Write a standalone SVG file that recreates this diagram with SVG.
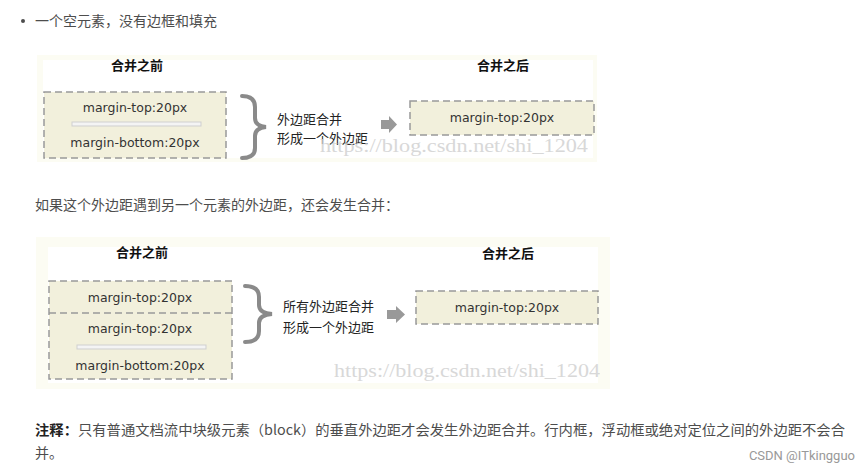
<svg xmlns="http://www.w3.org/2000/svg" width="864" height="472" viewBox="0 0 864 472">
<style>
.body{font-family:"Noto Sans CJK SC","Noto Sans",sans-serif;font-size:14px;fill:#4d4d4d}
.title{font-family:"Noto Sans CJK SC",sans-serif;font-size:13px;font-weight:bold;fill:#111;text-anchor:middle}
.lbl{font-family:"Noto Sans CJK SC",sans-serif;font-size:13px;fill:#222}
.m{font-family:"DejaVu Sans",Verdana,sans-serif;font-size:12.5px;fill:#333;text-anchor:middle}
.box{fill:#f2f0dc;stroke:#999;stroke-width:1.5;stroke-dasharray:7,4}
.bar{fill:#f4f4f4;stroke:#cfcfcf;stroke-width:1}
.brace{fill:none;stroke:#8a8a8a;stroke-width:4;stroke-linecap:round}
.arrow{fill:#999}
.wm{font-family:"Liberation Serif",serif;font-size:18px;fill:#cfcfcf;opacity:0.8}
.outer{fill:#fcfcf3}
.inner{fill:#ffffff}
</style>

<circle cx="23" cy="21" r="2" fill="#4d4d4d"/>
<text class="body" x="35" y="26">一个空元素，没有边框和填充</text>

<g id="figure1">
  <rect class="outer" x="37" y="55" width="560" height="107"/>
  <rect class="inner" x="43" y="60" width="550" height="98"/>
  <text class="title" x="137" y="70">合并之前</text>
  <text class="title" x="503" y="70">合并之后</text>
  <g id="before1">
    <rect class="box" x="44" y="92" width="182" height="66"/>
    <text class="m" x="135" y="112">margin-top:20px</text>
    <rect class="bar" x="72" y="122" width="129" height="4"/>
    <text class="m" x="135" y="147">margin-bottom:20px</text>
  </g>
  <g id="brace1">
    <path class="brace" d="M242,96 Q255,96 255,107 L255,118 Q255,126 266,127 Q255,128 255,136 L255,148 Q255,158 242,158"/>
    <text class="lbl" x="277" y="124">外边距合并</text>
    <text class="lbl" x="277" y="143">形成一个外边距</text>
  </g>
  <g id="arrow1">
    <path class="arrow" d="M381,120 L389,120 L389,116 L397,124.5 L389,133 L389,129 L381,129 Z"/>
  </g>
  <g id="after1">
    <rect class="box" x="410" y="101" width="184" height="34"/>
    <text class="m" x="502" y="122">margin-top:20px</text>
  </g>
  <text class="wm" x="320" y="152" textLength="268" lengthAdjust="spacingAndGlyphs">https://blog.csdn.net/shi_1204</text>
</g>

<text class="body" x="35" y="210">如果这个外边距遇到另一个元素的外边距，还会发生合并：</text>

<g id="figure2">
  <rect class="outer" x="36" y="237" width="574" height="152"/>
  <rect class="inner" x="48" y="247" width="550" height="136"/>
  <text class="title" x="142" y="257">合并之前</text>
  <text class="title" x="508" y="258">合并之后</text>
  <g id="before2">
    <rect class="box" x="49" y="281" width="183" height="98"/>
    <line x1="49" y1="313" x2="232" y2="313" stroke="#999" stroke-width="1.5" stroke-dasharray="7,4"/>
    <text class="m" x="140" y="302">margin-top:20px</text>
    <text class="m" x="140" y="333">margin-top:20px</text>
    <rect class="bar" x="77" y="345" width="129" height="4"/>
    <text class="m" x="140" y="370">margin-bottom:20px</text>
  </g>
  <g id="brace2">
    <path class="brace" d="M245,286 Q259,286 259,297 L259,305 Q259,313 272,314 Q259,315 259,323 L259,331 Q259,342 245,342"/>
    <text class="lbl" x="283" y="311">所有外边距合并</text>
    <text class="lbl" x="283" y="332">形成一个外边距</text>
  </g>
  <g id="arrow2">
    <path class="arrow" d="M387,310 L396,310 L396,306 L405,314.5 L396,323 L396,319 L387,319 Z"/>
  </g>
  <g id="after2">
    <rect class="box" x="416" y="291" width="182" height="33"/>
    <text class="m" x="507" y="312">margin-top:20px</text>
  </g>
  <text class="wm" x="334" y="377" textLength="266" lengthAdjust="spacingAndGlyphs">https://blog.csdn.net/shi_1204</text>
</g>

<text class="body" x="35" y="435" textLength="810" lengthAdjust="spacingAndGlyphs"><tspan font-weight="bold" fill="#222">注释：</tspan>只有普通文档流中块级元素（block）的垂直外边距才会发生外边距合并。行内框，浮动框或绝对定位之间的外边距不会合</text>
<text class="body" x="35" y="458">并。</text>
<text x="855" y="460" text-anchor="end" style="font-family:'Roboto','Liberation Sans',sans-serif;font-size:13px;fill:#999">CSDN @ITkingguo</text>
</svg>
